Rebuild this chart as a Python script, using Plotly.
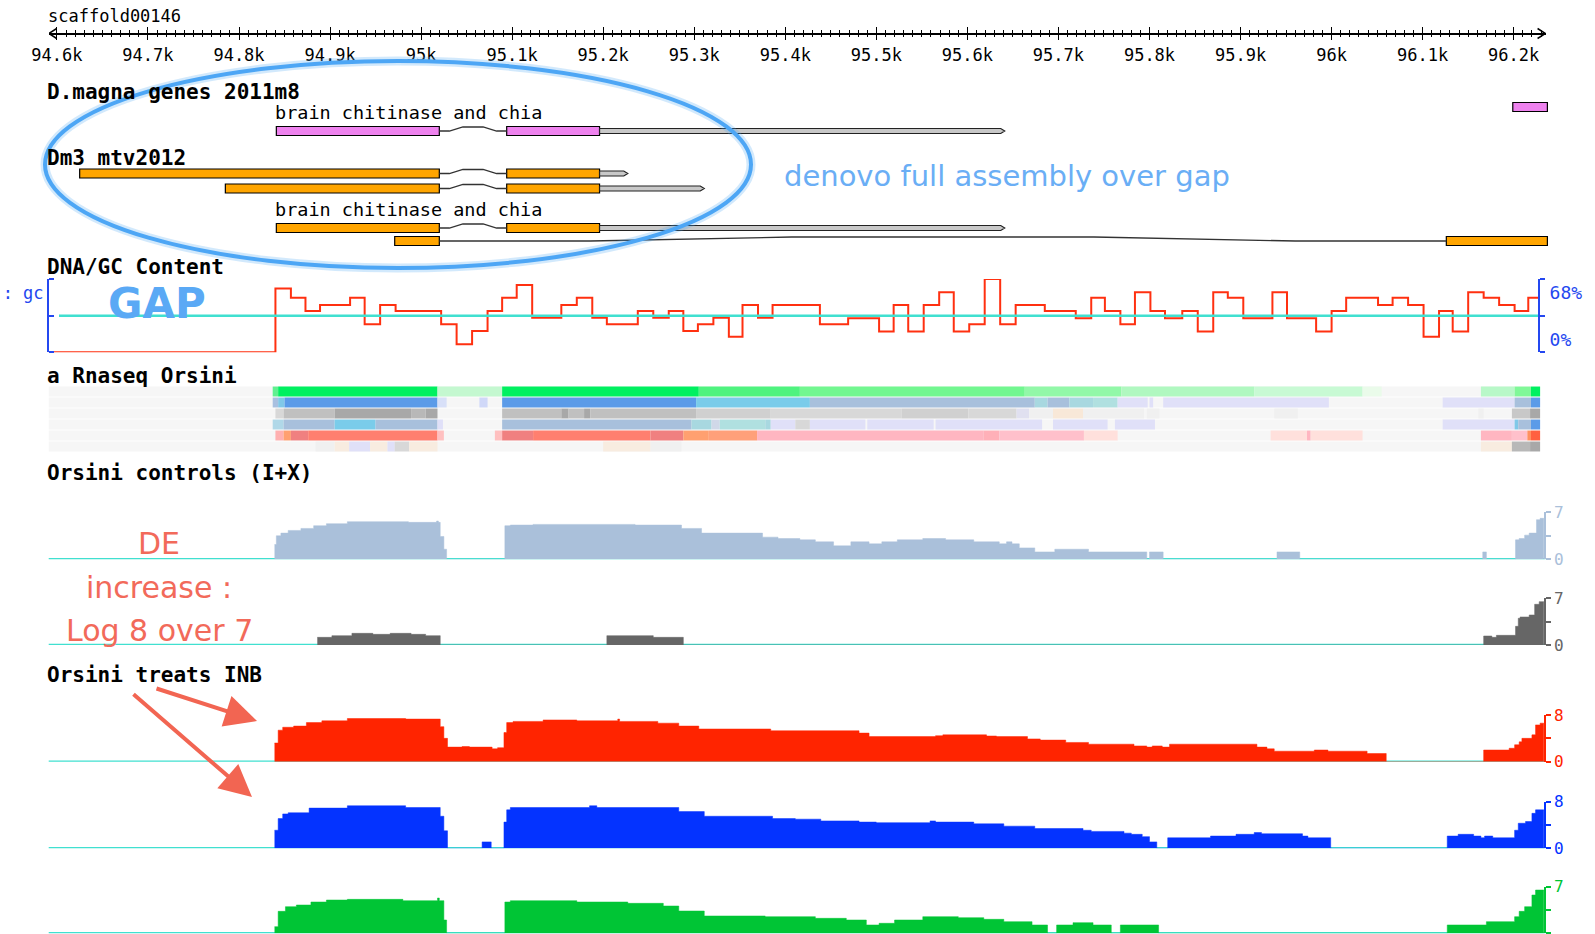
import plotly.graph_objects as go

W, H = 1595, 934
BP_LEFT = 94537.5          # genomic position at the left page edge
BP_PER_PX = 1.0983


def px2bp(px):
    return BP_LEFT + px * BP_PER_PX


def xp(px):
    return px / W


def dom(top, bottom):
    return [1 - bottom / H, 1 - top / H]


# ---------------------------------------------------------------- data ----
scaffold_name = "scaffold00146"
track_start, track_end = 94591, 96235
heat_end = 96229

gene_label = "brain chitinase and chia"
dmagna_rows = [[(94841, 95020), (95094, 95196)], [(96199, 96237)]]
dmagna_tail_end = [95641, None]
dm3_rows = [[(94625, 95020), (95094, 95196)],
            [(94785, 95020), (95094, 95196)],
            [(94841, 95020), (95094, 95196)],
            [(94971, 95020), (96126, 96237)]]
dm3_tail_end = [95227, 95311, 95641, None]

gc_x = [94591, 94840, 94857, 94873, 94889, 94922, 94938, 94955, 94972, 95022, 95039, 95056,
        95073, 95089, 95105, 95122, 95154, 95171, 95188, 95204, 95238, 95255, 95272, 95288,
        95304, 95321, 95338, 95353, 95370, 95386, 95438, 95469, 95503, 95519, 95535, 95552,
        95569, 95585, 95602, 95619, 95636, 95653, 95685, 95719, 95736, 95751, 95768, 95784,
        95801, 95817, 95836, 95853, 95870, 95886, 95903, 95935, 95951, 95983, 96000, 96016,
        96051, 96067, 96084, 96101, 96118, 96133, 96150, 96167, 96184, 96201, 96216, 96228]
gc_y = [0, 59.3, 50.7, 38.3, 43.9, 50.7, 26, 43.9, 38.3, 26, 7.4, 19.8,
        38.3, 50.7, 62.4, 32.1, 43.9, 50.7, 32.1, 26, 38.3, 32.1, 38.3, 19.8,
        26, 32.1, 14.5, 43.9, 32.1, 43.9, 26, 31.5, 19.2, 43.9, 19.2, 43.9,
        55.6, 19.2, 26, 68, 26, 43.9, 38.3, 31.5, 50.7, 38.3, 26, 55.6,
        38.3, 31.5, 38.3, 19.2, 55.6, 50.7, 31.5, 55.6, 31.5, 19.2, 38.3, 50.7,
        43.9, 50.7, 43.9, 14.5, 38.3, 19.2, 55.6, 50.7, 43.9, 38.3, 50.7, 50.7]
gc_mid = 34
gc_max = 68

rnaseq_rows = [
    [(94837, 94843, '#60f090'), (94843, 95018, '#00f060'), (95018, 95089, '#c4f8d0'),
     (95089, 95305, '#00f060'), (95305, 95416, '#4ff37f'), (95416, 95663, '#72f790'),
     (95663, 95769, '#92f8a8'), (95769, 95915, '#b0f8c0'), (95915, 96034, '#c8fad4'),
     (96034, 96055, '#eafbea'), (96164, 96201, '#b8f8c8'), (96201, 96219, '#80f898'),
     (96219, 96229, '#00f060')],
    [(94837, 94843, '#a8c0e0'), (94843, 94850, '#80c8e8'), (94850, 95018, '#5b9be8'),
     (95018, 95028, '#d8e0f8'), (95064, 95073, '#d0d8f8'), (95089, 95302, '#5b9be8'),
     (95302, 95427, '#7accea'), (95427, 95674, '#a8c0dc'), (95674, 95688, '#a8d8e0'),
     (95688, 95712, '#a8c0dc'), (95712, 95738, '#a8d8e0'), (95738, 95765, '#b0e0e0'),
     (95765, 95798, '#e0e0f8'), (95800, 95804, '#e0e0f8'), (95815, 95997, '#e0e0f8'),
     (96122, 96201, '#e0e0f8'), (96201, 96219, '#a8c0dc'), (96219, 96229, '#5b9be8')],
    [(94840, 94849, '#d8d8d8'), (94849, 94905, '#c0c0c0'), (94905, 94989, '#a8a8a8'),
     (94989, 95005, '#b8b8b8'), (95005, 95018, '#a8a8a8'), (95089, 95154, '#c0c0c0'),
     (95154, 95162, '#a8a8a8'), (95162, 95179, '#c0c0c0'), (95179, 95186, '#a8a8a8'),
     (95186, 95302, '#c0c0c0'), (95302, 95384, '#d0d0d0'), (95384, 95528, '#d8d8d8'),
     (95528, 95601, '#d0d0d0'), (95601, 95654, '#d8d8d8'), (95654, 95668, '#e0e0f0'),
     (95668, 95694, '#f0f0f0'), (95694, 95727, '#f8e8d8'), (95727, 95794, '#f0f0f0'),
     (95797, 95811, '#f0f0f0'), (95937, 95963, '#f0f0f0'), (96161, 96167, '#f0f0f0'),
     (96198, 96218, '#c8c8c8'), (96218, 96229, '#a8a8a8')],
    [(94837, 94849, '#b0d8e8'), (94849, 94905, '#a8c0dc'), (94905, 94950, '#7accea'),
     (94950, 95018, '#a8c0dc'), (95018, 95024, '#e0e0f8'), (95089, 95297, '#a8c0dc'),
     (95297, 95319, '#a8d8e0'), (95319, 95328, '#d0d8e8'), (95328, 95378, '#b0e0e0'),
     (95378, 95384, '#a8d8e0'), (95384, 95411, '#e0e0f8'), (95411, 95427, '#d8d8d8'),
     (95427, 95488, '#e0e0f8'), (95490, 95563, '#e0e0f8'), (95565, 95682, '#e0e0f8'),
     (95694, 95754, '#e0e0f8'), (95762, 95806, '#e0e0f8'), (96122, 96201, '#e0e0f8'),
     (96201, 96205, '#80c8e8'), (96205, 96219, '#a8c0dc'), (96219, 96229, '#5b9be8')],
    [(94840, 94849, '#ffb0b0'), (94849, 94857, '#ffa070'), (94857, 94876, '#f08080'),
     (94876, 95018, '#ff7f6f'), (95018, 95025, '#ffc0c0'), (95081, 95089, '#ffc0c0'),
     (95089, 95123, '#f08080'), (95123, 95252, '#ff7f6f'), (95252, 95288, '#f08080'),
     (95288, 95316, '#ffa070'), (95316, 95369, '#ffa07a'), (95369, 95618, '#ffb6c1'),
     (95618, 95635, '#ffb0b8'), (95635, 95728, '#ffc0cb'), (95728, 95765, '#ffe0dc'),
     (95933, 95973, '#ffe0dc'), (95973, 95977, '#ffb6c1'), (95977, 96034, '#ffe0dc'),
     (96164, 96198, '#ffb6c1'), (96198, 96215, '#ffc0cb'), (96215, 96219, '#ff9060'),
     (96219, 96229, '#ff6040')],
    [(94884, 94905, '#f0f0f0'), (94905, 94921, '#f8ece0'), (94921, 94944, '#e0e0f8'),
     (94944, 94963, '#f8ece0'), (94963, 94971, '#e0e0f8'), (94971, 94987, '#d8d8d8'),
     (94987, 95018, '#f8ece0'), (95200, 95252, '#f8ece0'), (95252, 95286, '#f0f0f0'),
     (96164, 96198, '#f8ece0'), (96198, 96218, '#b8b8b8'), (96218, 96229, '#a8a8a8')],
]

ctrl1_x = [94839, 94841, 94846, 94854, 94868, 94882, 94896, 94919, 94986, 95017, 95019, 95021,
           95025, 95028, 95092, 95098, 95123, 95235, 95286, 95308, 95375, 95392, 95411, 95416,
           95433, 95453, 95472, 95492, 95506, 95523, 95551, 95576, 95607, 95635, 95643, 95649,
           95657, 95674, 95696, 95733, 95797, 95800, 95815, 95940, 95965, 96166, 96170, 96202,
           96206, 96212, 96217, 96225, 96229, 96233]
ctrl1_y = [2.2, 3.5, 3.9, 4.3, 4.6, 5.0, 5.3, 5.6, 5.5, 5.7, 5.5, 3.4,
           1.5, 0, 5.0, 5.1, 5.2, 5.1, 4.6, 3.9, 3.3, 3.1, 3.1, 2.9,
           2.6, 2.0, 2.6, 2.3, 2.6, 2.9, 3.1, 2.9, 2.6, 2.3, 2.6, 2.3,
           1.7, 1.1, 1.5, 1.1, 0, 1.1, 0, 1.1, 0, 1.1, 0, 2.9,
           3.1, 3.6, 3.9, 5.9, 6.1, 0]

ctrl2_x = [94886, 94902, 94924, 94947, 94966, 94989, 95005, 95021, 95204, 95255, 95288,
           96167, 96176, 96181, 96202, 96205, 96207, 96217, 96223, 96228, 96233]
ctrl2_y = [1.15, 1.4, 1.75, 1.6, 1.75, 1.6, 1.4, 0, 1.4, 1.15, 0,
           1.35, 1.15, 1.45, 2.8, 4.0, 4.2, 4.5, 6.1, 6.5, 0]

treat1_x = [94839, 94843, 94848, 94860, 94874, 94891, 94919, 94983, 95021, 95025, 95029, 95045,
            95053, 95078, 95084, 95091, 95094, 95101, 95134, 95171, 95216, 95218, 95260, 95283,
            95305, 95384, 95481, 95492, 95565, 95573, 95621, 95632, 95666, 95680, 95708, 95733,
            95783, 95797, 95803, 95814, 95822, 95918, 95929, 95937, 95981, 95996, 96039, 96060,
            96167, 96195, 96201, 96206, 96209, 96220, 96224, 96229, 96233]
treat1_y = [3.2, 5.4, 5.9, 6.1, 6.7, 7.0, 7.4, 7.3, 6.0, 4.0, 2.5, 2.6,
            2.5, 2.2, 2.4, 5.0, 6.7, 6.9, 7.15, 7.0, 7.3, 6.9, 6.6, 6.1,
            5.6, 5.3, 4.9, 4.3, 4.45, 4.6, 4.4, 4.3, 3.9, 3.7, 3.3, 3.0,
            2.7, 2.5, 2.7, 2.5, 3.0, 2.5, 2.2, 1.8, 2.0, 1.8, 1.4, 0,
            2.0, 2.3, 2.9, 3.4, 4.0, 4.6, 6.3, 6.6, 0]

treat2_x = [94839, 94843, 94848, 94854, 94877, 94919, 94983, 95021, 95025, 95029, 95067, 95077,
            95091, 95094, 95098, 95185, 95193, 95283, 95311, 95386, 95411, 95439, 95481, 95500,
            95559, 95565, 95607, 95640, 95674, 95727, 95736, 95772, 95780, 95792, 95800, 95808,
            95820, 95867, 95895, 95915, 95923, 95968, 95974, 95999, 96127, 96139, 96156, 96164,
            96168, 96177, 96201, 96205, 96213, 96220, 96224, 96233]
treat2_y = [3.1, 5.1, 5.9, 6.1, 6.9, 7.3, 7.0, 5.5, 3.0, 0, 1.1, 0,
            4.5, 6.6, 7.0, 7.3, 7.0, 6.3, 5.5, 5.1, 5.0, 4.7, 4.5, 4.4,
            4.7, 4.5, 4.2, 3.8, 3.4, 3.1, 2.9, 2.6, 2.4, 2.0, 1.1, 0,
            1.8, 2.1, 2.4, 2.7, 2.5, 2.1, 1.8, 0, 2.1, 2.4, 2.1, 1.8,
            2.1, 1.8, 3.1, 4.3, 4.6, 6.0, 6.6, 0]

treat3_x = [94839, 94843, 94851, 94863, 94879, 94896, 94919, 94980, 95018, 95020, 95025, 95028,
            95092, 95098, 95171, 95227, 95266, 95283, 95311, 95378, 95433, 95467, 95489, 95503,
            95520, 95551, 95590, 95618, 95640, 95671, 95688, 95698, 95716, 95738, 95758, 95768,
            95810, 96127, 96170, 96201, 96206, 96212, 96220, 96224, 96233]
treat3_y = [1.0, 3.3, 4.0, 4.25, 4.7, 5.0, 5.1, 4.9, 5.3, 4.9, 2.0, 0,
            4.7, 4.9, 4.7, 4.5, 4.1, 3.35, 2.6, 2.5, 2.25, 2.0, 1.25, 1.5,
            2.0, 2.5, 2.35, 2.1, 1.75, 1.25, 0, 1.25, 1.6, 1.25, 0, 1.25,
            0, 1.25, 1.75, 2.5, 3.3, 4.0, 5.75, 6.5, 0]

cov_names = ["ctrl1", "ctrl2", "treat1", "treat2", "treat3"]
cov_x = [ctrl1_x, ctrl2_x, treat1_x, treat2_x, treat3_x]
cov_y = [ctrl1_y, ctrl2_y, treat1_y, treat2_y, treat3_y]
cov_max = [7, 7, 8, 8, 7]

# ---------------------------------------------------------------- style ---
MONO = "DejaVu Sans Mono"
SANS = "DejaVu Sans"
CYAN = "#40e0d0"
GC_BLUE = "#2448f0"
cov_colors = ["#aac0da", "#666666", "#ff2400", "#0433ff", "#00c535"]
cov_px = [(512.3, 559.3), (598.3, 645.0), (715.0, 761.7), (801.7, 848.3), (886.7, 933.3)]
cov_axis = ["y4", "y5", "y6", "y7", "y8"]
EXON_H = 9
HAT_F = [0, 0.15, 0.35, 0.65, 0.85, 1]
HAT_DY = [0, 0, -4, -4, 0, 0]
RULER_Y = 33.5

fig = go.Figure()

# ---- Rnaseq heat rows
for i, segs in enumerate(rnaseq_rows):
    fig.add_trace(go.Bar(orientation='h', base=[track_start], x=[heat_end - track_start], y=[i],
                         width=0.9, marker=dict(color='#f6f6f6', line_width=0),
                         xaxis='x', yaxis='y9', hoverinfo='skip'))
    fig.add_trace(go.Bar(orientation='h', base=[s for s, e, c in segs],
                         x=[e - s for s, e, c in segs], y=[i] * len(segs), width=0.9,
                         marker=dict(color=[c for s, e, c in segs], line_width=0),
                         xaxis='x', yaxis='y9'))

# ---- GC content
fig.add_trace(go.Scatter(x=[px2bp(59), px2bp(1539)], y=[gc_mid, gc_mid], mode='lines',
                         line=dict(color=CYAN, width=2.5), xaxis='x', yaxis='y3'))
fig.add_trace(go.Scatter(x=gc_x, y=gc_y, mode='lines', line_shape='hv',
                         line=dict(color='#ff3010', width=2), xaxis='x', yaxis='y2'))

# ---- coverage tracks
for xs, ys, col, ax in zip(cov_x, cov_y, cov_colors, cov_axis):
    fig.add_trace(go.Scatter(x=[track_start, track_end], y=[0, 0], mode='lines',
                             line=dict(color=CYAN, width=2.5), xaxis='x', yaxis=ax))
    fig.add_trace(go.Scatter(x=xs, y=ys, mode='lines', line_shape='hv', fill='tozeroy',
                             fillcolor=col, line=dict(color=col, width=0.5),
                             xaxis='x', yaxis=ax))


# ---- gene models
def add_gene_row(exons, y, color, tail_end):
    for (s1, e1), (s2, e2) in zip(exons[:-1], exons[1:]):
        L = s2 - e1
        fig.add_trace(go.Scatter(x=[e1 + f * L for f in HAT_F], y=[y + d for d in HAT_DY],
                                 mode='lines', line=dict(color='#333333', width=1.3),
                                 xaxis='x', yaxis='y'))
    if tail_end:
        s = exons[-1][1]
        tip = 4 * BP_PER_PX
        fig.add_trace(go.Scatter(x=[s, tail_end - tip, tail_end, tail_end - tip, s, s],
                                 y=[y - 2.5, y - 2.5, y, y + 2.5, y + 2.5, y - 2.5],
                                 fill='toself', fillcolor='#c8c8c8', mode='lines',
                                 line=dict(color='#222222', width=1.2), xaxis='x', yaxis='y'))
    fig.add_trace(go.Bar(orientation='h', base=[s for s, e in exons], x=[e - s for s, e in exons],
                         y=[y] * len(exons), width=EXON_H,
                         marker=dict(color=color, line=dict(color='black', width=1.2)),
                         xaxis='x', yaxis='y'))


for exons, tail, y in zip(dmagna_rows, dmagna_tail_end, [131, 107]):
    add_gene_row(exons, y, '#ee82ee', tail)
for exons, tail, y in zip(dm3_rows, dm3_tail_end, [173.5, 188.5, 228, 241]):
    add_gene_row(exons, y, '#ffa500', tail)

# ---- ruler end chevrons
chev = 8 * BP_PER_PX
fig.add_trace(go.Scatter(x=[track_start + chev, track_start, track_start + chev],
                         y=[RULER_Y - 5, RULER_Y, RULER_Y + 5], mode='lines',
                         line=dict(color='black', width=1.5), xaxis='x2', yaxis='y'))
fig.add_trace(go.Scatter(x=[track_end - chev, track_end, track_end - chev],
                         y=[RULER_Y - 5, RULER_Y, RULER_Y + 5], mode='lines',
                         line=dict(color='black', width=1.5), xaxis='x3', yaxis='y'))

# ---------------------------------------------------------------- layout --
ruler_common = dict(domain=[xp(49), xp(1546)], range=[px2bp(49), px2bp(1546)],
                    anchor='free', position=1 - RULER_Y / H, side='bottom',
                    showline=True, linecolor='black', linewidth=1.5,
                    tickmode='linear', tick0=0, dtick=100, tickformat='~s',
                    tickcolor='black', tickwidth=1.3, showgrid=False, zeroline=False,
                    tickfont=dict(family=MONO, size=17, color='black'))
layout = dict(
    width=W, height=H, margin=dict(l=0, r=0, t=0, b=0, pad=0), template='none',
    paper_bgcolor='white', plot_bgcolor='rgba(0,0,0,0)', showlegend=False,
    barmode='overlay', hovermode=False,
    xaxis=dict(domain=[0, 1], range=[px2bp(0), px2bp(W)], visible=False, fixedrange=True),
    yaxis=dict(domain=[0, 1], range=[H, 0], visible=False, fixedrange=True),
    xaxis2=dict(**ruler_common, ticks='outside', ticklen=6,
                minor=dict(dtick=10, tick0=0, ticks='outside', ticklen=3, tickwidth=1,
                           tickcolor='black', showgrid=False)),
    xaxis3=dict(**ruler_common, ticks='inside', ticklen=6, showticklabels=False,
                minor=dict(dtick=10, tick0=0, ticks='inside', ticklen=3, tickwidth=1,
                           tickcolor='black', showgrid=False)),
    yaxis2=dict(domain=dom(279, 352.3), range=[0, gc_max], anchor='free', position=xp(48),
                side='left', showline=True, linecolor=GC_BLUE, linewidth=2,
                tickmode='array', tickvals=[55], ticktext=[': gc'], ticks='',
                tickfont=dict(family=MONO, size=17, color=GC_BLUE),
                minor=dict(tickmode='array', tickvals=[0, gc_mid, gc_max], ticks='inside',
                           ticklen=5, tickwidth=2, tickcolor=GC_BLUE, showgrid=False),
                showgrid=False, zeroline=False),
    yaxis3=dict(overlaying='y2', range=[0, gc_max], anchor='free', position=xp(1539),
                side='right', showline=True, linecolor=GC_BLUE, linewidth=2,
                tickmode='array', tickvals=[55, 11.4], ticktext=['68%', '0%'], ticks='',
                ticklabelstandoff=6,
                tickfont=dict(family=MONO, size=18, color=GC_BLUE),
                minor=dict(tickmode='array', tickvals=[0, gc_mid, gc_max], ticks='outside',
                           ticklen=5, tickwidth=2, tickcolor=GC_BLUE, showgrid=False),
                showgrid=False, zeroline=False),
    yaxis9=dict(domain=dom(386, 452), range=[5.5, -0.5], visible=False, fixedrange=True),
)
for ax, (top, bot), col, mx in zip(cov_axis, cov_px, cov_colors, cov_max):
    layout['yaxis' + ax[1:]] = dict(
        domain=dom(top, bot), range=[0, mx], anchor='free', position=xp(1545), side='right',
        showline=True, linecolor=col, linewidth=1.5, tickmode='array', tickvals=[0, mx],
        ticktext=['0', str(mx)], ticks='outside', ticklen=5, tickcolor=col, tickwidth=1.5,
        tickfont=dict(family=MONO, size=16, color=col),
        minor=dict(tickmode='array', tickvals=[mx / 2], ticks='outside', ticklen=5,
                   tickwidth=1.5, tickcolor=col, showgrid=False),
        showgrid=False, zeroline=False)
fig.update_layout(**layout)

# ---- texts
def label(text, x, y, size, color='black', family=MONO, bold=False, xanchor='left'):
    fig.add_annotation(text=text, x=xp(x), y=y, xref='paper', yref='y', showarrow=False,
                       xanchor=xanchor, yanchor='middle', borderpad=0,
                       font=dict(family=family, size=size, color=color,
                                 weight='bold' if bold else 'normal'))


label(scaffold_name, 47, 15.5, 17)
label("D.magna genes 2011m8", 46, 92, 21, bold=True)
label("Dm3 mtv2012", 46, 158, 21, bold=True)
label(gene_label, 274, 112.5, 18.5)
label(gene_label, 274, 209.5, 18.5)
label("DNA/GC Content", 46, 267, 21, bold=True)
label("a Rnaseq Orsini", 46, 376, 21, bold=True)
label("Orsini controls (I+X)", 46, 473, 21, bold=True)
label("Orsini treats INB", 46, 675, 21, bold=True)

label("denovo full assembly over gap", 1007, 176, 29, color='#6aaef5', family=SANS,
      xanchor='center')
label("GAP", 157, 303, 42, color='#5aa9f5', family=SANS, bold=True, xanchor='center')
for t, y in [("DE", 543), ("increase :", 587), ("Log 8 over 7", 630)]:
    label(t, 159, y, 30, color='#f26a5a', family=SANS, xanchor='center')

# ---- hand-drawn annotations
fig.add_shape(type='circle', xref='paper', yref='y', x0=xp(45), x1=xp(751), y0=61, y1=268,
              line=dict(color='rgba(77,166,245,0.25)', width=9), layer='above')
fig.add_shape(type='circle', xref='paper', yref='y', x0=xp(45), x1=xp(751), y0=61, y1=268,
              line=dict(color='#4da6f5', width=4), layer='above')
for hx, hy, tx, ty in [(257, 721, 155, 688), (252, 797, 132, 693)]:
    fig.add_annotation(x=xp(hx), y=hy, xref='paper', yref='y', ax=tx - hx, ay=ty - hy,
                       axref='pixel', ayref='pixel', showarrow=True, arrowhead=2,
                       arrowsize=1.6, arrowwidth=4, arrowcolor='#f26552', text='')

fig.write_html("out.html")
